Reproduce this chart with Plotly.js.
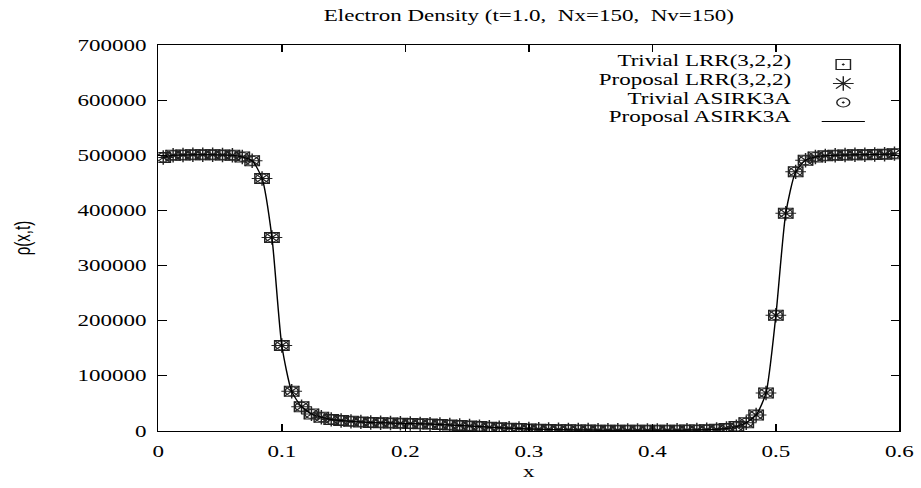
<!DOCTYPE html>
<html><head><meta charset="utf-8">
<script src="https://cdn.plot.ly/plotly-3.0.1.min.js"></script>
<style>
html,body{margin:0;padding:0;overflow:hidden;background:#fff;}
#wrap{width:921px;height:488px;overflow:hidden;}
#chart{width:640px;height:488px;transform:scaleX(1.4390625);transform-origin:0 0;}
</style></head><body><div id="wrap"><div id="chart"></div></div>
<script>
// cell centres of the plotted part of the grid
const xCells = [0.004,0.012,0.020,0.028,0.036,0.044,0.052,0.060,0.068,0.076,
  0.084,0.092,0.100,0.108,0.116,0.124,0.132,0.140,0.148,0.156,
  0.164,0.172,0.180,0.188,0.196,0.204,0.212,0.220,0.228,0.236,
  0.244,0.252,0.260,0.268,0.276,0.284,0.292,0.300,0.308,0.316,
  0.324,0.332,0.340,0.348,0.356,0.364,0.372,0.380,0.388,0.396,
  0.404,0.412,0.420,0.428,0.436,0.444,0.452,0.460,0.468,0.476,
  0.484,0.492,0.500,0.508,0.516,0.524,0.532,0.540,0.548,0.556,
  0.564,0.572,0.580,0.588,0.596];
// electron density (all four methods coincide)
const rhoTrivialLRR = [496000,500000,500500,501000,501000,501000,500500,500000,497000,490000,
  458000,351000,155000,72000,44000,31000,25000,21000,19000,17500,
  16500,15500,15000,14500,14000,13500,13000,12500,12000,11000,
  10000,9000,8000,7000,6000,5200,4500,3800,3200,2800,
  2400,2100,1900,1700,1500,1400,1300,1200,1200,1200,
  1200,1300,1400,1600,1900,2300,3000,4500,8000,15000,
  29000,69000,210000,395000,470000,491000,497000,499000,500000,500500,
  501000,501000,501500,502000,503000];
const rhoProposalLRR = rhoTrivialLRR.slice();
const rhoTrivialASIRK = rhoTrivialLRR.slice();
const rhoProposalASIRK = rhoTrivialLRR.slice();
const seriesNames = ['Trivial LRR(3,2,2)','Proposal LRR(3,2,2)','Trivial ASIRK3A','Proposal ASIRK3A'];
const xTickVals = [0,0.1,0.2,0.3,0.4,0.5,0.6];
const xTickText = ['0','0.1','0.2','0.3','0.4','0.5','0.6'];
const yTickVals = [0,100000,200000,300000,400000,500000,600000,700000];
const yTickText = ['0','100000','200000','300000','400000','500000','600000','700000'];

const serif = 'Liberation Serif, Times New Roman, serif';
const mk = (sym, size) => ({symbol: sym, size: size, color: '#222', line: {color: '#222', width: 1}});
const traces = [
  {x: xCells, y: rhoTrivialLRR, type: 'scatter', mode: 'markers', name: ' ', marker: mk('square-open-dot', 10), hoverinfo: 'skip'},
  {x: xCells, y: rhoProposalLRR, type: 'scatter', mode: 'markers', name: ' ', marker: mk('asterisk-open', 12), hoverinfo: 'skip'},
  {x: xCells, y: rhoTrivialASIRK, type: 'scatter', mode: 'markers', name: ' ', marker: mk('circle-open-dot', 9), hoverinfo: 'skip'},
  {x: xCells, y: rhoProposalASIRK, type: 'scatter', mode: 'lines', name: ' ', line: {color: '#000', width: 1, shape: 'spline', smoothing: 0.6}, hoverinfo: 'skip'}
];

const plotL = 110, plotR = 625, plotT = 45, plotB = 431;
const pw = plotR - plotL, ph = plotB - plotT;
const rowY = [61, 79.5, 98, 116.5];
const annotations = seriesNames.map((n, i) => ({
  text: n, xref: 'paper', yref: 'paper', x: (552 - plotL) / pw, y: (plotB - rowY[i]) / ph,
  xanchor: 'right', yanchor: 'middle', showarrow: false,
  font: {family: serif, size: 16, color: '#000'}
}));

const layout = {
  width: 640, height: 488,
  margin: {l: plotL, r: 640 - plotR, t: plotT, b: 488 - plotB, pad: 0},
  paper_bgcolor: '#fff', plot_bgcolor: '#fff',
  font: {family: serif, size: 16, color: '#000'},
  title: {text: 'Electron Density (t=1.0,\u00a0 Nx=150,\u00a0 Nv=150)', font: {family: serif, size: 16, color: '#000'},
          x: 0.5, xref: 'paper', y: 1 - 15 / 488, yref: 'container', yanchor: 'middle', xanchor: 'center'},
  xaxis: {range: [0, 0.6], tickvals: xTickVals, ticktext: xTickText, ticks: 'inside', ticklen: 7, tickcolor: '#000',
          showline: true, linecolor: '#000', linewidth: 1, mirror: 'ticks', showgrid: false, zeroline: false,
          tickfont: {family: serif, size: 16}, ticklabelstandoff: 6,
          title: {text: 'x', font: {family: serif, size: 16}, standoff: 6}},
  yaxis: {range: [0, 700000], tickvals: yTickVals, ticktext: yTickText, ticks: 'inside', ticklen: 6, tickcolor: '#000',
          showline: true, linecolor: '#000', linewidth: 1, mirror: 'ticks', showgrid: false, zeroline: false,
          tickfont: {family: serif, size: 16}, ticklabelstandoff: 4,
          title: {text: 'ρ(x,t)', font: {family: 'Liberation Sans, Arial, sans-serif', size: 15}, standoff: 28}},
  showlegend: true,
  legend: {x: (566 - plotL) / pw, xanchor: 'left', y: (plotB - 50) / ph, yanchor: 'top',
           bgcolor: 'rgba(0,0,0,0)', borderwidth: 0, font: {family: serif, size: 12}, itemwidth: 30,
           itemclick: false, itemdoubleclick: false},
  annotations: annotations
};
Plotly.newPlot('chart', traces, layout, {staticPlot: true, displayModeBar: false});
</script></body></html>
